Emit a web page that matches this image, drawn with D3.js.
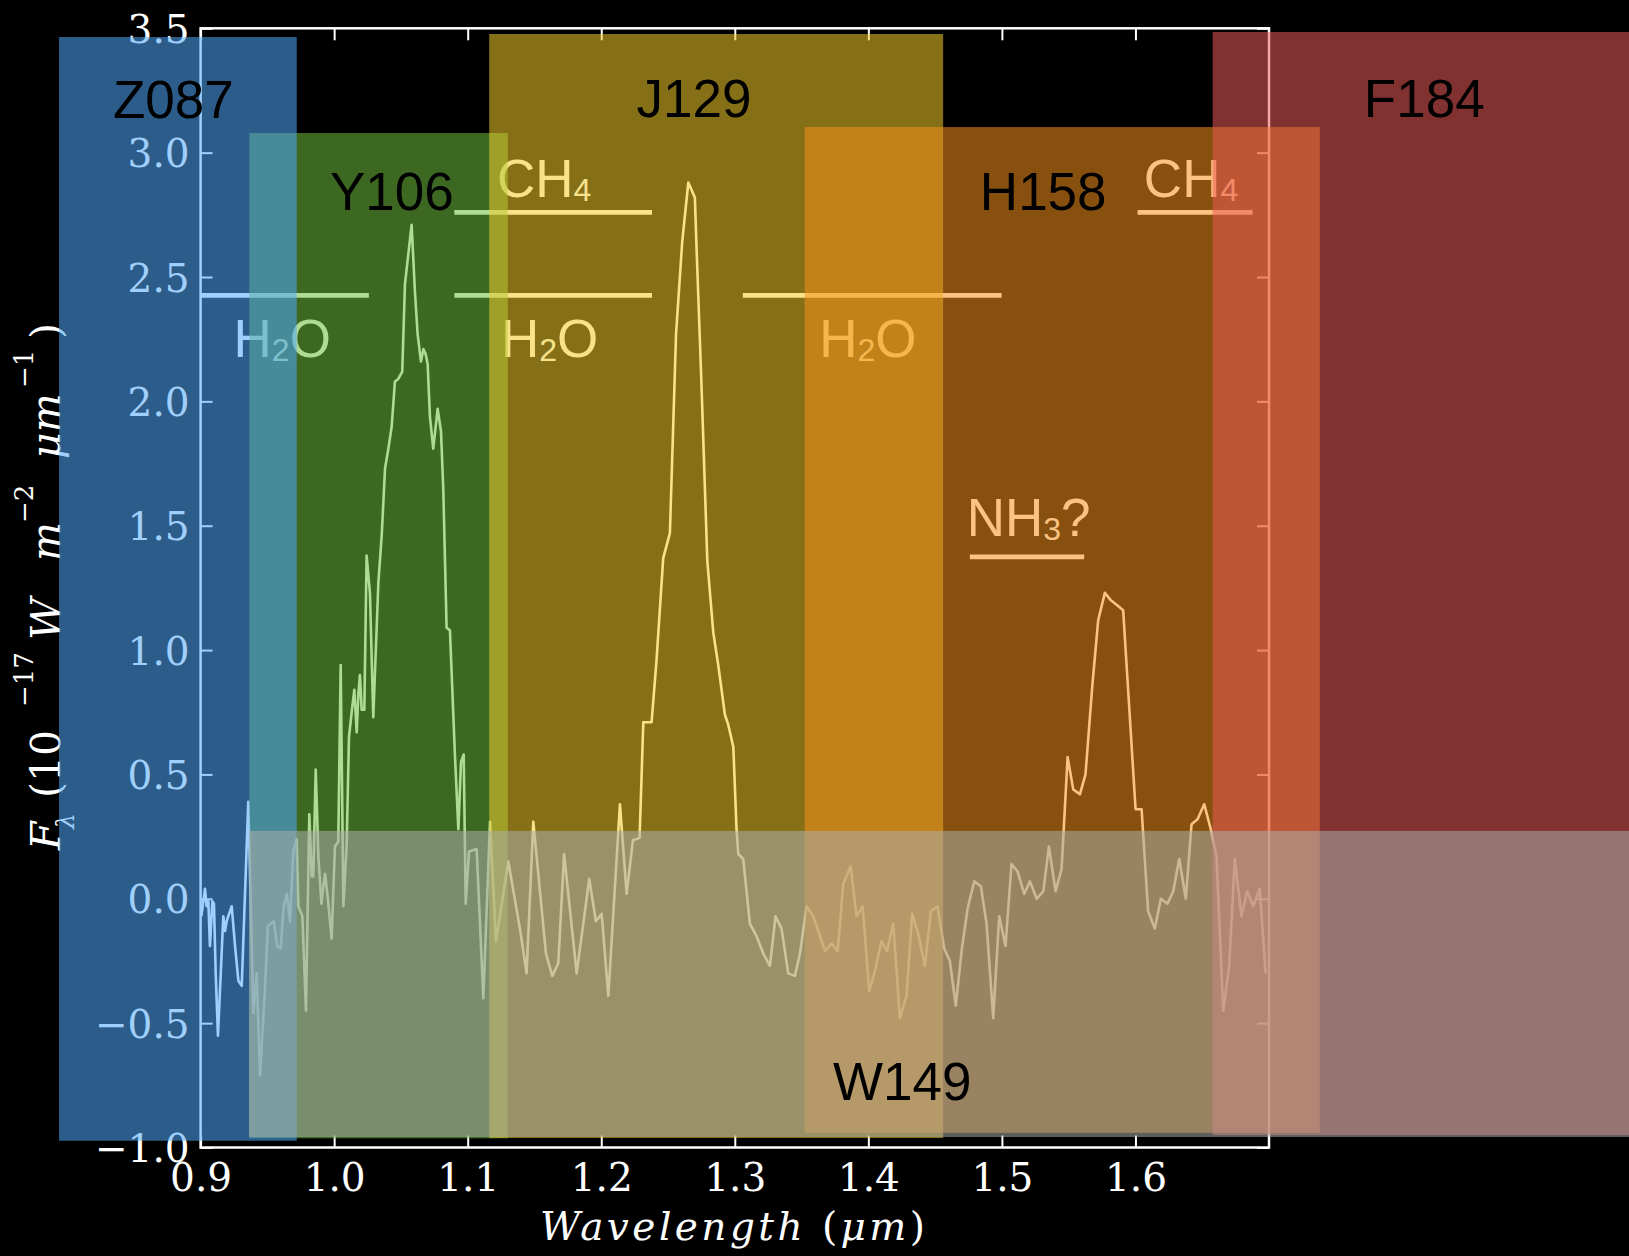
<!DOCTYPE html>
<html>
<head>
<meta charset="utf-8">
<script src="https://cdn.jsdelivr.net/npm/d3@7"></script>
<style>
  html, body { margin: 0; padding: 0; background: #000; }
  svg { display: block; }
</style>
</head>
<body>
<svg id="chart" width="1629" height="1256"></svg>
<script>
// ---- Spectrum (wavelength in micron, flux in 1e-17 W m^-2 um^-1) ----
const wavelength = [
  0.9006,0.9033,0.9045,0.9058,0.9070,0.9088,0.9100,0.9113,0.9130,0.9170,0.9183,0.9195,0.9233,0.9258,0.9283,0.9308,
  0.9357,0.9395,0.9420,0.9445,0.9484,0.9504,0.9525,0.9548,0.9573,0.9599,0.9622,0.9646,0.9669,0.9694,0.9719,0.9732,
  0.9762,0.9789,0.9814,0.9832,0.9844,0.9862,0.9882,0.9905,0.9919,0.9932,0.9951,0.9981,1.0006,1.0031,1.0049,1.0069,
  1.0094,1.0111,1.0131,1.0151,1.0169,1.0181,1.0193,1.0206,1.0226,1.0243,1.0268,1.0293,1.0331,1.0356,1.0381,1.0406,
  1.0431,1.0455,1.0480,1.0510,1.0530,1.0580,1.0605,1.0625,1.0650,1.0668,1.0685,1.0700,1.0717,1.0742,1.0775,1.0800,
  1.0817,1.0842,1.0867,1.0905,1.0930,1.0950,1.0970,1.0985,1.1010,1.1067,1.1117,1.1167,1.1212,1.1304,1.1391,1.1441,
  1.1491,1.1586,1.1633,1.1678,1.1722,1.1816,1.1910,1.1960,1.2003,1.2053,1.2140,1.2190,1.2237,1.2287,1.2315,1.2377,
  1.2414,1.2464,1.2514,1.2560,1.2606,1.2652,1.2701,1.2714,1.2751,1.2794,1.2839,1.2876,1.2926,1.2951,1.2989,1.3013,
  1.3026,1.3063,1.3113,1.3163,1.3213,1.3263,1.3305,1.3350,1.3400,1.3450,1.3488,1.3537,1.3587,1.3675,1.3725,1.3770,
  1.3812,1.3867,1.3912,1.3957,1.4007,1.4049,1.4099,1.4140,1.4186,1.4236,1.4286,1.4328,1.4373,1.4423,1.4468,1.4518,
  1.4568,1.4610,1.4655,1.4698,1.4743,1.4793,1.4843,1.4885,1.4935,1.4980,1.5027,1.5072,1.5117,1.5167,1.5210,1.5260,
  1.5310,1.5352,1.5402,1.5447,1.5492,1.5534,1.5584,1.5626,1.5676,1.5721,1.5771,1.5816,1.5863,1.5908,1.6001,1.6046,
  1.6095,1.6145,1.6190,1.6240,1.6283,1.6328,1.6377,1.6420,1.6465,1.6515,1.6564,1.6607,1.6657,1.6702,1.6744,1.6794,
  1.6837,1.6881,1.6931,1.6974
];
const flux = [
  -0.07,0.04,-0.03,-0.01,-0.19,-0.01,-0.02,-0.30,-0.55,-0.07,-0.13,-0.09,-0.03,-0.19,-0.33,-0.35,
  0.39,-0.46,-0.30,-0.71,-0.34,-0.11,-0.10,-0.09,-0.19,-0.20,-0.03,0.02,-0.09,0.19,0.24,-0.03,
  -0.07,-0.45,0.34,0.09,0.09,0.52,0.17,-0.02,0.05,0.10,0.01,-0.16,0.21,0.23,0.94,-0.03,
  0.22,0.65,0.75,0.84,0.67,0.82,0.90,0.76,0.76,1.38,1.23,0.73,1.27,1.46,1.73,1.81,
  1.90,2.08,2.09,2.12,2.47,2.71,2.44,2.27,2.16,2.21,2.19,2.15,1.94,1.81,1.97,1.88,
  1.65,1.09,1.08,0.57,0.28,0.55,0.58,-0.02,0.19,0.20,-0.40,0.31,-0.17,0.15,-0.12,-0.30,
  0.31,-0.22,-0.31,-0.26,0.18,-0.30,0.08,-0.09,-0.06,-0.39,0.38,0.02,0.235,0.245,0.71,0.71,
  0.96,1.37,1.47,2.27,2.64,2.88,2.82,2.61,2.06,1.36,1.07,0.94,0.74,0.70,0.61,0.28,
  0.18,0.16,-0.10,-0.15,-0.22,-0.27,-0.07,-0.12,-0.30,-0.31,-0.22,-0.03,-0.07,-0.21,-0.18,-0.21,
  0.06,0.13,-0.07,-0.03,-0.37,-0.29,-0.17,-0.21,-0.10,-0.48,-0.39,-0.06,-0.14,-0.27,-0.05,-0.03,
  -0.20,-0.25,-0.43,-0.21,-0.04,0.07,0.05,-0.10,-0.48,-0.07,-0.19,0.14,0.11,0.02,0.07,0.00,
  0.03,0.21,0.03,0.12,0.57,0.44,0.42,0.50,0.85,1.12,1.23,1.20,1.18,1.16,0.36,0.36,
  -0.05,-0.12,0.00,-0.02,0.03,0.16,0.00,0.30,0.32,0.38,0.28,0.17,-0.45,-0.27,0.16,-0.07,
  0.03,-0.03,0.04,-0.30
];

// ---- Axis ticks ----
const xTicks = [0.9, 1.0, 1.1, 1.2, 1.3, 1.4, 1.5, 1.6];
const yTicks = [-1.0, -0.5, 0.0, 0.5, 1.0, 1.5, 2.0, 2.5, 3.0, 3.5];

// ---- Filter bandpasses (wavelength span and vertical extent in data units) ----
const bandNames  = ["Y106", "Z087", "J129", "H158", "F184", "W149"];
const bandLo     = [0.9365, 0.794, 1.1161, 1.3523, 1.6578, 0.9362];
const bandHi     = [1.130, 0.972, 1.456, 1.738, 2.0, 2.0];
const bandBottom = [-0.963, -0.973, -0.962, -0.941, -0.950, -0.958];
const bandTop    = [3.079, 3.465, 3.477, 3.103, 3.485, 0.273];
const bandColors = ["#6fbd3e", "#50a7f9", "#f2cc2c", "#f5911b", "#eb5b57", "#a9ada9"];
const bandLabelX = [0.9969, 0.8344, 1.2264, 1.4835, 1.771, 1.3735];
const bandLabelY = [2.770, 3.138, 3.142, 2.770, 3.142, -0.809];

// ---- Absorption features ----
const featureLo    = [0.900, 1.090, 1.306, 1.090, 1.6016, 1.476];
const featureHi    = [1.026, 1.238, 1.4998, 1.238, 1.6877, 1.5616];
const featureLevel = [2.426, 2.426, 2.426, 2.760, 2.760, 1.375];
const featureMain  = ["H", "H", "H", "CH", "CH", "NH"];
const featureSub   = ["2", "2", "2", "4", "4", "3"];
const featureTail  = ["O", "O", "O", "", "", "?"];
const featureLabelX = [0.9247, 1.1249, 1.3632, 1.1219, 1.6063, 1.4736];
const featureLabelY = [2.1785, 2.1785, 2.1785, 2.8235, 2.8235, 1.46];

// ---- Layout ----
const svg = d3.select("#chart");
const x = d3.scaleLinear().domain([0.9, 1.7]).range([200.6, 1269]);
const y = d3.scaleLinear().domain([-1, 3.5]).range([1147.5, 28.3]);

svg.append("rect").attr("width", 1629).attr("height", 1256).attr("fill", "#000");

const serif = "'DejaVu Serif', serif";
const sans = "'Liberation Sans', Arial, sans-serif";

// Axes with inward ticks on all four sides
function styleAxis(g) {
  g.select(".domain").remove();
  g.selectAll(".tick line").attr("stroke", "#fff").attr("stroke-width", 2);
  g.selectAll(".tick text").attr("fill", "#fff")
    .attr("font-family", serif).attr("font-size", 39);
}
const fmt = d3.format(".1f");

svg.append("g").attr("transform", `translate(0,${y(-1)})`)
  .call(d3.axisBottom(x).tickValues(xTicks).tickSize(-12).tickPadding(16).tickFormat(fmt))
  .call(styleAxis);
svg.append("g").attr("transform", `translate(0,${y(3.5)})`)
  .call(d3.axisTop(x).tickValues(xTicks).tickSize(-12).tickFormat(""))
  .call(styleAxis);
const gLeft = svg.append("g").attr("transform", `translate(${x(0.9)},0)`)
  .call(d3.axisLeft(y).tickValues(yTicks).tickSize(-12).tickPadding(11).tickFormat(fmt))
  .call(styleAxis);
gLeft.selectAll(".tick text").attr("dy", "0.36em");
svg.append("g").attr("transform", `translate(${x(1.7)},0)`)
  .call(d3.axisRight(y).tickValues(yTicks).tickSize(-12).tickFormat(""))
  .call(styleAxis);

// Frame
svg.append("rect")
  .attr("x", x(0.9)).attr("y", y(3.5))
  .attr("width", x(1.7) - x(0.9)).attr("height", y(-1) - y(3.5))
  .attr("fill", "none").attr("stroke", "#fff").attr("stroke-width", 2.5);

// X axis title
const xt = svg.append("text")
  .attr("x", 540).attr("y", 1240)
  .attr("textLength", 385).attr("lengthAdjust", "spacing")
  .attr("fill", "#fff").attr("font-family", serif).attr("font-size", 39);
xt.append("tspan").attr("font-style", "italic").text("Wavelength ");
xt.append("tspan").text("(");
xt.append("tspan").attr("font-style", "italic").text("μm");
xt.append("tspan").text(")");

// Y axis title (rotated)
const yt = svg.append("g").attr("transform", "translate(60,585) rotate(-90)")
  .attr("fill", "#fff").attr("font-family", serif);
const yParts = [
  { t: "F",   px: -265, py: 0,   size: 41, it: true },
  { t: "λ",   px: -244, py: 14,  size: 25, it: true },
  { t: "(10", px: -213, py: 0,   size: 41, it: false },
  { t: "−17", px: -122, py: -27, size: 26, it: false },
  { t: "W",   px: -55,  py: 0,   size: 41, it: true },
  { t: "m",   px: 24,   py: 0,   size: 41, it: true },
  { t: "−2",  px: 62,   py: -27, size: 26, it: false },
  { t: "μm",  px: 126,  py: 0,   size: 41, it: true },
  { t: "−1",  px: 197,  py: -27, size: 26, it: false },
  { t: ")",   px: 246,  py: 0,   size: 41, it: false }
];
yParts.forEach(p => {
  yt.append("text").attr("x", p.px).attr("y", p.py)
    .attr("font-size", p.size)
    .attr("font-style", p.it ? "italic" : "normal")
    .text(p.t);
});

// Spectrum
const line = d3.line().x((d, i) => x(wavelength[i])).y(d => y(d));
svg.append("path").datum(flux)
  .attr("d", line)
  .attr("fill", "none").attr("stroke", "#fff")
  .attr("stroke-width", 2.6).attr("stroke-linejoin", "round");

// Absorption feature bars and labels
featureLo.forEach((lo, i) => {
  svg.append("line")
    .attr("x1", x(lo)).attr("x2", x(featureHi[i]))
    .attr("y1", y(featureLevel[i])).attr("y2", y(featureLevel[i]))
    .attr("stroke", "#fff").attr("stroke-width", 4.8);
  const t = svg.append("text")
    .attr("x", x(featureLabelX[i])).attr("y", y(featureLabelY[i]))
    .attr("fill", "#fff").attr("font-family", sans).attr("font-size", 53);
  t.append("tspan").text(featureMain[i]);
  t.append("tspan").attr("font-size", 32).attr("dy", 4.5).text(featureSub[i]);
  if (featureTail[i]) t.append("tspan").attr("dy", -4.5).text(featureTail[i]);
});

// Filter bands laid over everything drawn so far
bandNames.forEach((name, i) => {
  svg.append("rect")
    .attr("x", x(bandLo[i])).attr("y", y(bandTop[i]))
    .attr("width", x(bandHi[i]) - x(bandLo[i]))
    .attr("height", y(bandBottom[i]) - y(bandTop[i]))
    .attr("fill", bandColors[i]).attr("fill-opacity", 0.55);
});

// Filter names
bandNames.forEach((name, i) => {
  svg.append("text")
    .attr("x", x(bandLabelX[i])).attr("y", y(bandLabelY[i]))
    .attr("fill", "#000").attr("font-family", sans).attr("font-size", 53)
    .text(name);
});
</script>
</body>
</html>
